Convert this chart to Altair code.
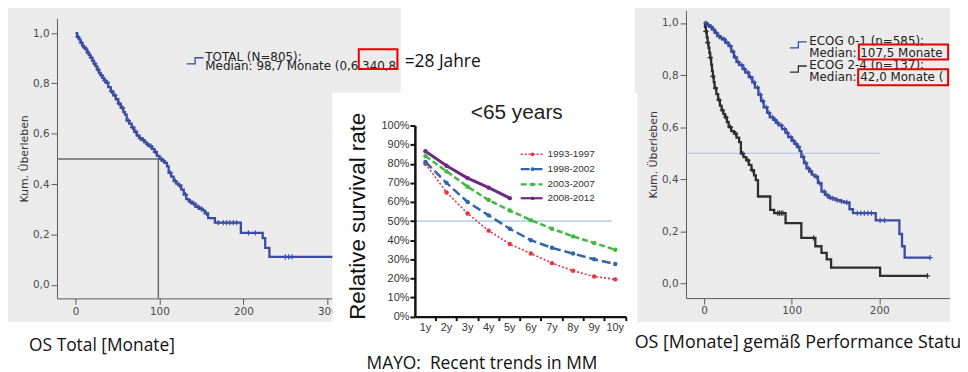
import altair as alt
import numpy as np
import pandas as pd

# ---------------- data ----------------
# Left panel: Kaplan-Meier OS, TOTAL (N=805)
total_months = [0, 2, 4, 6, 8, 10, 12, 14, 16, 18, 20, 22, 24, 26, 28, 30, 32, 34, 36,
                39, 42, 45, 48, 51, 54, 57, 59, 61, 64, 67, 70, 73, 76, 79, 82, 85, 88, 91,
                94, 97, 100, 103, 106, 109, 111, 114, 117, 120, 123, 126, 129, 132, 135,
                139, 143, 147, 151, 154, 158, 166, 197, 223, 226, 231, 340]
total_surv = [1.000, 0.985, 0.975, 0.962, 0.950, 0.942, 0.935, 0.922, 0.912, 0.902,
              0.890, 0.878, 0.868, 0.855, 0.842, 0.832, 0.822, 0.812, 0.803,
              0.785, 0.768, 0.752, 0.737, 0.720, 0.703, 0.686, 0.676, 0.652,
              0.640, 0.625, 0.607, 0.593, 0.583, 0.575, 0.566, 0.558, 0.550, 0.540,
              0.528, 0.512, 0.500, 0.492, 0.484, 0.470, 0.445, 0.430, 0.412, 0.402,
              0.395, 0.378, 0.358, 0.340, 0.330, 0.322, 0.310, 0.302, 0.296, 0.284,
              0.265, 0.247, 0.206, 0.185, 0.147, 0.111, 0.111]
total_censor = [3, 7, 11, 15, 19, 23, 27, 31, 35, 38, 43, 47, 52, 56, 63, 68, 72, 77, 81,
                86, 90, 95, 102, 105, 113, 119, 124, 131, 137, 141, 146, 150, 156, 170,
                176, 180, 184, 188, 192, 206, 214, 250, 254, 258]
total_median = 98.7

# Right panel: OS by performance status
ecog01_months = [0, 3, 6, 9, 12, 15, 18, 21, 24, 28, 31, 34, 37, 40, 44, 47, 51, 55, 58,
                 62, 65, 68, 72, 75, 79, 82, 85, 89, 93, 96, 100, 103, 106, 109, 111, 114,
                 117, 120, 123, 126, 130, 134, 138, 142, 145, 150, 155, 160, 166, 170,
                 196, 223, 226, 229, 258]
ecog01_surv = [1.0, 0.992, 0.985, 0.975, 0.962, 0.950, 0.942, 0.937, 0.925, 0.911,
               0.890, 0.868, 0.850, 0.838, 0.823, 0.810, 0.792, 0.772, 0.752, 0.725,
               0.700, 0.676, 0.655, 0.638, 0.628, 0.617, 0.607, 0.593, 0.578, 0.562,
               0.548, 0.536, 0.524, 0.508, 0.486, 0.462, 0.442, 0.430, 0.418, 0.410,
               0.385, 0.353, 0.340, 0.330, 0.327, 0.320, 0.315, 0.311, 0.285, 0.270,
               0.242, 0.190, 0.143, 0.099, 0.099]
ecog01_censor = [2, 5, 8, 11, 14, 17, 20, 23, 26, 30, 33, 36, 39, 43, 46, 50, 53, 57, 61,
                 64, 67, 71, 74, 78, 81, 84, 88, 92, 95, 99, 102, 105, 108, 113, 116, 119,
                 122, 128, 132, 137, 140, 144, 147, 152, 157, 163, 175, 179, 183, 187,
                 191, 201, 206, 258]
ecog24_months = [0, 1, 2, 3, 4, 5, 6, 7, 8, 9, 10, 11, 12, 14, 16, 18, 20, 22, 24, 26, 28,
                 31, 34, 37, 40, 42, 45, 48, 51, 54, 57, 59, 61.5, 75.5, 80, 93, 111, 127,
                 134, 140, 145, 201, 255]
ecog24_surv = [1.0, 0.985, 0.968, 0.945, 0.925, 0.905, 0.885, 0.867, 0.840, 0.816, 0.795,
               0.772, 0.750, 0.727, 0.705, 0.683, 0.665, 0.650, 0.638, 0.620, 0.600,
               0.585, 0.575, 0.560, 0.543, 0.499, 0.485, 0.473, 0.455, 0.435, 0.415,
               0.397, 0.334, 0.283, 0.270, 0.232, 0.175, 0.143, 0.118, 0.093, 0.061,
               0.029, 0.029]
ecog24_censor = [2, 4, 7, 10, 13, 17, 21, 25, 30, 36, 44, 50, 55, 84, 86, 88, 90, 125, 255]

# Middle panel: MAYO relative survival (<65 years)
years = ["1y", "2y", "3y", "4y", "5y", "6y", "7y", "8y", "9y", "10y"]
periods = ["1993-1997", "1998-2002", "2003-2007", "2008-2012"]
rate_1993 = [80, 65, 54, 45, 38, 33, 28, 24, 21, 19.5]
rate_1998 = [81, 70, 60, 53, 46, 40, 36, 33, 30, 27.5]
rate_2003 = [84, 76, 68, 61, 55.5, 50.5, 46, 42, 38.5, 35]
rate_2008 = [86.5, 79, 72.5, 67.5, 62]

km_ticks_y = [0, 0.2, 0.4, 0.6, 0.8, 1.0]
left_ticks_x = [0, 100, 200, 300]
right_ticks_x = [0, 100, 200]
mayo_ticks_y = [0, 10, 20, 30, 40, 50, 60, 70, 80, 90, 100]

# ---------------- layout ----------------
W, H = 960, 364


def P(v):
    """page pixel -> chart pixel"""
    return v - 8


KM_FONT = "DejaVu Sans"
SLIDE_FONT = "Open Sans"
ARIAL = "Liberation Sans"
KM_BLUE = "#3b4ca3"
KM_BLACK = "#2e2e2e"
ONE = alt.Data(values=[{"k": 0}])

XL = alt.Scale(domain=[-22, 306], range=[P(57.4), P(335.1)], nice=False, zero=False, clamp=True)
YL = alt.Scale(domain=[-0.054, 1.058], range=[P(299.3), P(17)], nice=False, zero=False)
XR = alt.Scale(domain=[-20.7, 280.9], range=[P(691.7), P(958)], nice=False, zero=False)
YR = alt.Scale(domain=[-0.056, 1.048], range=[P(299), P(9)], nice=False, zero=False)
XM = alt.Scale(type="band", domain=years, range=[P(418.3), P(631)], paddingInner=0, paddingOuter=0)
YM = alt.Scale(domain=[0, 100], range=[P(317.7), P(125)], nice=False, zero=False)

comma = "replace(format(datum.value, '.1f'), '.', ',')"
km_axis = dict(grid=False, domainColor="#5a5a5a", domainWidth=1, tickColor="#5a5a5a",
               tickWidth=1, tickSize=6, labelFont=KM_FONT, labelFontSize=10.5,
               labelColor="#4a4a4a", labelPadding=2, labelFlush=False, labelOverlap=False,
               zindex=0)
km_title = dict(titleFont=KM_FONT, titleFontSize=11, titleFontWeight="normal",
                titleColor="#333333", titlePadding=3)


def step_at(times, surv, t):
    idx = np.searchsorted(np.asarray(times, dtype=float), np.asarray(t, dtype=float), side="right") - 1
    return list(np.asarray(surv)[idx])


def km_group(months, surv, censor, color, XS, YS, axx, axy):
    df = pd.DataFrame({"t": months, "s": surv})
    cdf = pd.DataFrame({"t": censor, "s": step_at(months, surv, censor)})
    line = alt.Chart(df).mark_line(interpolate="step-after", color=color, strokeWidth=2.3).encode(
        x=alt.X("t:Q", scale=XS, axis=axx), y=alt.Y("s:Q", scale=YS, axis=axy))
    cens = alt.Chart(cdf).mark_point(shape="M0,-1V1M-1,0H1", filled=False, size=28, strokeWidth=1.2,
                                     color=color, opacity=1).encode(
        x=alt.X("t:Q", scale=XS, axis=axx), y=alt.Y("s:Q", scale=YS, axis=axy))
    return [line, cens]


def label(txt, x, y, size, font, color="#222222", align="left", **kw):
    return alt.Chart(ONE).mark_text(text=txt, align=align, baseline="middle", font=font,
                                    fontSize=size, color=color, **kw).encode(
        x=alt.value(P(x)), y=alt.value(P(y)))


def box(x0, y0, x1, y1, color="white", stroke=None):
    if stroke:
        m = alt.Chart(ONE).mark_rect(fill="white", fillOpacity=0, stroke=stroke, strokeWidth=2)
    else:
        m = alt.Chart(ONE).mark_rect(color=color, opacity=1)
    return m.encode(x=alt.value(P(x0)), x2=alt.value(P(x1)), y=alt.value(P(y0)), y2=alt.value(P(y1)))


def step_icon(x, y, color):
    return alt.Chart(ONE).mark_point(shape="M-1,0.36H0V-0.36H1", filled=False, size=289,
                                     strokeWidth=1.3, color=color, opacity=1).encode(
        x=alt.value(P(x)), y=alt.value(P(y)))


# ---------------- left panel ----------------
axLx = alt.Axis(orient="bottom", offset=P(299.3) - H, values=left_ticks_x, format="d", title=None, **km_axis)
axLy = alt.Axis(orient="left", offset=-P(57.4), values=km_ticks_y, labelExpr=comma,
                title="Kum. Überleben", **km_axis, **km_title)
med_h = alt.Chart(pd.DataFrame({"x0": [-22], "x1": [total_median], "y": [0.5]})).mark_rule(
    color="#6a6a6a", strokeWidth=1.5).encode(
    x=alt.X("x0:Q", scale=XL, axis=axLx), x2="x1:Q", y=alt.Y("y:Q", scale=YL, axis=axLy))
med_v = alt.Chart(pd.DataFrame({"x": [total_median], "y0": [-0.054], "y1": [0.5]})).mark_rule(
    color="#6a6a6a", strokeWidth=1.5).encode(
    x=alt.X("x:Q", scale=XL, axis=axLx), y=alt.Y("y0:Q", scale=YL, axis=axLy), y2="y1:Q")
left_panel = alt.layer(*km_group(total_months, total_surv, total_censor, KM_BLUE, XL, YL, axLx, axLy),
                       med_h, med_v)

# ---------------- right panel ----------------
axRx = alt.Axis(orient="bottom", offset=P(299) - H, values=right_ticks_x, format="d", title=None, **km_axis)
axRy = alt.Axis(orient="left", offset=-P(691.7), values=km_ticks_y, labelExpr=comma,
                title="Kum. Überleben", **km_axis, **km_title)
med_r = alt.Chart(pd.DataFrame({"x0": [-20.7], "x1": [200.5], "y": [0.5]})).mark_rule(
    color="#9fc0e6", strokeWidth=1).encode(
    x=alt.X("x0:Q", scale=XR, axis=axRx), x2="x1:Q", y=alt.Y("y:Q", scale=YR, axis=axRy))
right_panel = alt.layer(
    med_r,
    *km_group(ecog24_months, ecog24_surv, ecog24_censor, KM_BLACK, XR, YR, axRx, axRy),
    *km_group(ecog01_months, ecog01_surv, ecog01_censor, KM_BLUE, XR, YR, axRx, axRy))

# ---------------- middle panel ----------------
mayo_axis = dict(grid=False, domainColor="#111111", domainWidth=2.5, tickColor="#111111",
                 tickWidth=2, labelFont=ARIAL, labelFontSize=11, labelColor="#333333", zindex=1)
axMx = alt.Axis(orient="bottom", offset=P(317.7) - H, tickSize=4, labelPadding=1, labelAngle=0,
                bandPosition=1, title=None, **mayo_axis)
axMy = alt.Axis(orient="left", offset=-P(418.3), values=mayo_ticks_y, labelExpr="datum.value + '%'",
                tickSize=5, labelPadding=1, title="Relative survival rate", titleFont=ARIAL,
                titleFontSize=22.5, titleFontWeight="normal", titleColor="#111111",
                titlePadding=12, titleY=P(216), **mayo_axis)

styles = [
    (periods[0], rate_1993, "#e3343f", dict(strokeDash=[2, 2]), 1.6),
    (periods[1], rate_1998, "#2f67a6", dict(strokeDash=[9, 4]), 2.5),
    (periods[2], rate_2003, "#3db93d", dict(strokeDash=[6, 3]), 2.5),
    (periods[3], rate_2008, "#6b2b80", dict(), 3.0),
]
ref50 = alt.Chart(pd.DataFrame({"v": [50]})).mark_rule(color="#8fb5e3", strokeWidth=1).encode(
    x=alt.value(P(418.3)), x2=alt.value(P(617)), y=alt.Y("v:Q", scale=YM, axis=axMy))
mid_layers = [ref50]
for name, vals, col, dash, sw in styles:
    d = pd.DataFrame({"year": years[:len(vals)], "rate": vals})
    xe = alt.X("year:N", scale=XM, sort=years, bandPosition=0.5, axis=axMx)
    ye = alt.Y("rate:Q", scale=YM, axis=axMy)
    mid_layers.append(alt.Chart(d).mark_line(color=col, strokeWidth=sw, **dash).encode(x=xe, y=ye))
    mid_layers.append(alt.Chart(d).mark_circle(color=col, size=20, opacity=1).encode(x=xe, y=ye))
mid_panel = alt.layer(*mid_layers)

# middle legend
leg = []
for (name, vals, col, dash, sw), ry in zip(styles, [154, 169, 184.3, 198.3]):
    leg.append(alt.Chart(ONE).mark_rule(color=col, strokeWidth=min(sw, 2.2), **dash).encode(
        x=alt.value(P(525)), x2=alt.value(P(547)), y=alt.value(P(ry))))
    leg.append(alt.Chart(ONE).mark_circle(color=col, size=14, opacity=1).encode(
        x=alt.value(P(537)), y=alt.value(P(ry))))
    leg.append(label(name, 552, ry, 10, ARIAL, color="#333333"))

# ---------------- white slide areas ----------------
whites = [
    box(335, 92, 643, 380),
    box(404, -10, 640, 92),
    box(-10, 323, 980, 380),
    box(958, -10, 980, 380),
]

texts = [
    # left legend
    step_icon(196.7, 59.7, KM_BLUE),
    label("TOTAL (N=805);", 207, 55.5, 12, KM_FONT),
    label("Median: 98,7 Monate (0,6 340,8", 207, 65, 12, KM_FONT),
    box(361.7, 48, 400.7, 68, stroke="#e60000"),
    label("=28 Jahre", 408, 61, 17.5, SLIDE_FONT, color="#111111"),
    # right legend
    step_icon(805, 43.7, KM_BLUE),
    step_icon(805, 68, KM_BLACK),
    label("ECOG 0-1 (n=585);", 816, 39.5, 12, KM_FONT),
    label("Median: 107,5 Monate", 816, 51.5, 12, KM_FONT),
    label("ECOG 2-4 (n=137);", 816, 64, 12, KM_FONT),
    label("Median: 42,0 Monate (", 816, 76, 12, KM_FONT),
    box(866, 43.3, 956, 58.3, stroke="#e60000"),
    box(865.3, 68.3, 956, 84.3, stroke="#e60000"),
    # middle title
    label("<65 years", 521, 112.5, 21, ARIAL, color="#222222", align="center"),
    # captions
    label("OS Total [Monate]", 29.3, 347, 17.5, SLIDE_FONT, color="#111111"),
    label("MAYO:\u00a0 Recent trends in MM", 486, 365, 17.5, SLIDE_FONT, color="#111111", align="center"),
    label("OS [Monate] gemäß Performance Status", 640, 344, 18, SLIDE_FONT, color="#111111"),
]

chart = alt.layer(
    *whites, left_panel, right_panel, mid_panel, *leg, *texts
).resolve_scale(x="independent", y="independent").properties(
    width=W, height=H, padding=0, background="#ebebeb",
    autosize=alt.AutoSizeParams(type="none"),
).configure_view(strokeWidth=0)

chart.save("out.html", embed_options={"renderer": "svg", "actions": False})
